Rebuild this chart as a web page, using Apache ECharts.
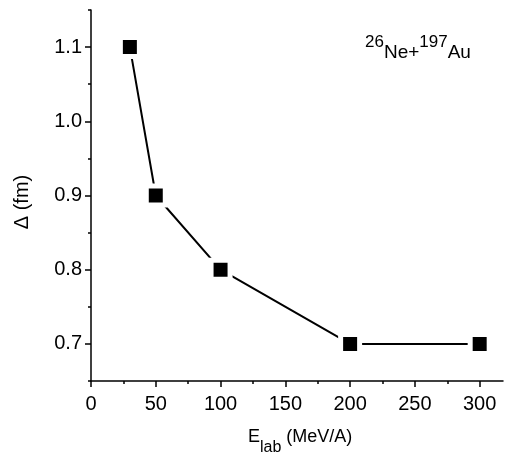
<!DOCTYPE html>
<html>
<head>
<meta charset="utf-8">
<script src="https://cdn.jsdelivr.net/npm/echarts@6/dist/echarts.min.js"></script>
<style>
  html, body { margin: 0; padding: 0; background: #fff; }
  #main { width: 510px; height: 457px; }
</style>
</head>
<body>
<div id="main"></div>
<script type="text/javascript">
// data
var energy = [30, 50, 100, 200, 300];       // E_lab (MeV/A)
var delta = [1.1, 0.9, 0.8, 0.7, 0.7];      // Δ (fm)
var xMajor = [0, 50, 100, 150, 200, 250, 300];
var xMinor = [25, 75, 125, 175, 225, 275];
var yMajor = [0.7, 0.8, 0.9, 1.0, 1.1];
var yMinor = [0.65, 0.75, 0.85, 0.95, 1.05, 1.15];

var fam = '"Liberation Sans", Arial, sans-serif';
var myChart = echarts.init(document.getElementById('main'));

var points = [];
for (var i = 0; i < energy.length; i++) {
    points.push([energy[i], delta[i]]);
}

var lineStyleAxis = { color: '#000', width: 1.5 };

myChart.setOption({
    animation: false,
    grid: { left: 91, top: 10, right: 7, bottom: 76 },
    xAxis: [{
        type: 'value', min: 0, max: 318,
        axisLine: { lineStyle: lineStyleAxis },
        axisTick: { customValues: xMajor, length: 6, inside: false, lineStyle: lineStyleAxis },
        axisLabel: { customValues: xMajor, margin: 13, color: '#000', fontSize: 20, fontFamily: fam },
        splitLine: { show: false }
    }, {
        type: 'value', min: 0, max: 318, position: 'bottom',
        axisLine: { show: false },
        axisTick: { customValues: xMinor, length: 3, lineStyle: lineStyleAxis },
        axisLabel: { show: false },
        splitLine: { show: false }
    }],
    yAxis: [{
        type: 'value', min: 0.65, max: 1.15,
        axisLine: { show: true, lineStyle: lineStyleAxis },
        axisTick: { show: true, customValues: yMajor, length: 6, lineStyle: lineStyleAxis },
        axisLabel: {
            customValues: yMajor, margin: 9, color: '#000', fontSize: 20, fontFamily: fam,
            formatter: function (v) { return v.toFixed(1); }
        },
        splitLine: { show: false }
    }, {
        type: 'value', min: 0.65, max: 1.15, position: 'left',
        axisLine: { show: false },
        axisTick: { show: true, customValues: yMinor, length: 3, lineStyle: lineStyleAxis },
        axisLabel: { show: false },
        splitLine: { show: false }
    }],
    graphic: [{
        type: 'text', left: 248, top: 428,
        style: {
            text: '{b|E}{s|lab}{b| (MeV/A)}',
            rich: {
                b: { font: '18px ' + fam, fill: '#000', lineHeight: 28, verticalAlign: 'top', padding: [0, 0, 8, 0] },
                s: { font: '16px ' + fam, fill: '#000', lineHeight: 28, verticalAlign: 'bottom', padding: [8, 0, 0, 0] }
            }
        }
    }, {
        type: 'text', x: 22, y: 202, rotation: Math.PI / 2,
        style: {
            text: 'Δ (fm)', font: '20px ' + fam, fill: '#000',
            align: 'center', verticalAlign: 'middle'
        }
    }, {
        type: 'text', left: 365, top: 34,
        style: {
            text: '{p|26}{b|Ne+}{p|197}{b|Au}',
            rich: {
                b: { font: '19px ' + fam, fill: '#000', lineHeight: 28, verticalAlign: 'bottom', padding: [9, 0, 0, 0] },
                p: { font: '17px ' + fam, fill: '#000', lineHeight: 28, verticalAlign: 'top', padding: [0, 0, 9, 0] }
            }
        }
    }],
    series: [{
        type: 'line',
        data: points,
        symbol: 'rect',
        symbolSize: 19,
        showAllSymbol: true,
        lineStyle: { color: '#000', width: 2 },
        itemStyle: { color: '#000', borderColor: '#fff', borderWidth: 5 }
    }]
});
</script>
</body>
</html>
